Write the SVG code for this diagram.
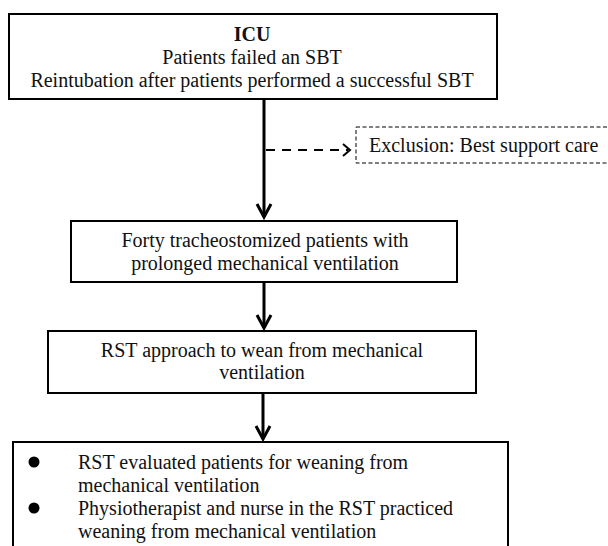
<svg xmlns="http://www.w3.org/2000/svg" width="608" height="546" viewBox="0 0 608 546">
<style>
.box{fill:#fff;stroke:#000;stroke-width:2}
.dbox{fill:#fff;stroke:#000;stroke-width:1;stroke-dasharray:4 2.5}
.t{font-family:"Liberation Serif","Times New Roman",serif;font-size:20px;fill:#111}
.c{text-anchor:middle}
.b{font-weight:bold}
.ln{stroke:#000;stroke-width:3;fill:none}
.hd{stroke:#000;stroke-width:3;fill:none;stroke-linejoin:miter}
.dl{stroke:#000;stroke-width:2;fill:none;stroke-dasharray:9 7}
.dh{stroke:#000;stroke-width:2;fill:none}
.bul{fill:#000}
</style>
<rect width="608" height="546" fill="#fff"/>
<g id="connectors">
<line class="ln" x1="264" y1="99" x2="264" y2="217"/>
<polyline class="hd" points="257,204 264,217 271,204"/>
<line class="dl" x1="266" y1="150" x2="348" y2="150"/>
<polyline class="dh" points="343,144 350,150 343,156"/>
<line class="ln" x1="264" y1="282" x2="264" y2="328"/>
<polyline class="hd" points="257,315 264,328 271,315"/>
<line class="ln" x1="263" y1="393" x2="263" y2="439"/>
<polyline class="hd" points="256,426 263,439 270,426"/>
</g>
<g id="icu">
<rect class="box" x="9" y="14" width="488" height="85"/>
<text class="t c b" x="252" y="41">ICU</text>
<text class="t c" x="252" y="64">Patients failed an SBT</text>
<text class="t c" x="252" y="87">Reintubation after patients performed a successful SBT</text>
</g>
<g id="exclusion">
<rect class="dbox" x="356" y="127" width="260" height="36"/>
<text class="t" x="369" y="152">Exclusion: Best support care</text>
</g>
<g id="forty">
<rect class="box" x="71" y="221" width="386" height="61"/>
<text class="t c" x="265" y="247">Forty tracheostomized patients with</text>
<text class="t c" x="265" y="270">prolonged mechanical ventilation</text>
</g>
<g id="rst">
<rect class="box" x="48" y="331" width="428" height="62"/>
<text class="t c" x="262" y="357">RST approach to wean from mechanical</text>
<text class="t c" x="262" y="379">ventilation</text>
</g>
<g id="weaning">
<rect class="box" x="13" y="442" width="495" height="120"/>
<circle class="bul" cx="34" cy="462" r="5.5"/>
<circle class="bul" cx="34" cy="508" r="5.5"/>
<text class="t" x="78" y="469">RST evaluated patients for weaning from</text>
<text class="t" x="78" y="492">mechanical ventilation</text>
<text class="t" x="78" y="515">Physiotherapist and nurse in the RST practiced</text>
<text class="t" x="78" y="538">weaning from mechanical ventilation</text>
</g>
</svg>
